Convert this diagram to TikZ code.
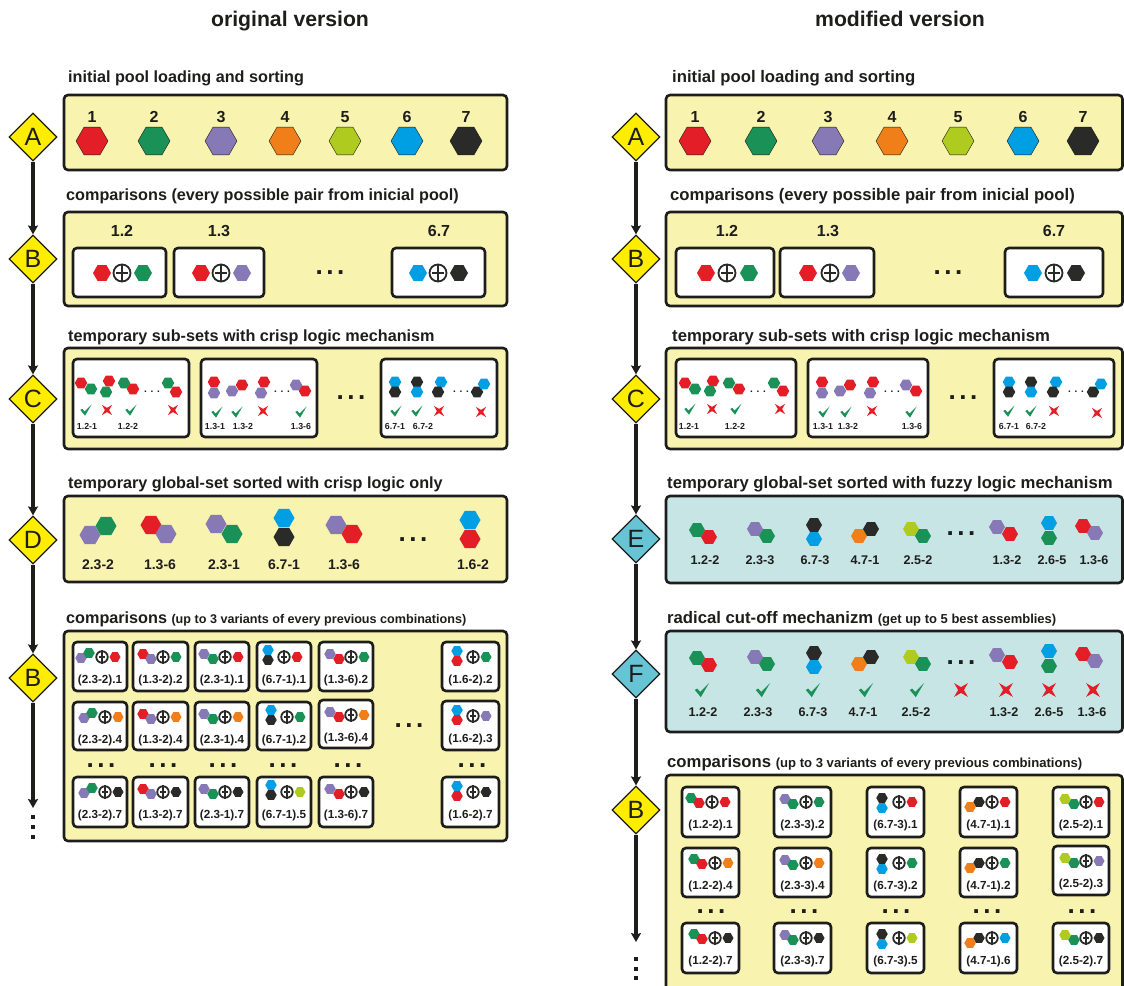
\documentclass[tikz,border=0pt]{standalone}
\usepackage{fontspec}
\setmainfont{Liberation Sans}
\usetikzlibrary{shapes.geometric,arrows.meta}

\definecolor{ink}{HTML}{1D1D1B}
\definecolor{hred}{HTML}{E31E26}
\definecolor{hgreen}{HTML}{1A9157}
\definecolor{hpurple}{HTML}{8779B5}
\definecolor{horange}{HTML}{F07F19}
\definecolor{hlime}{HTML}{AFCB1F}
\definecolor{hblue}{HTML}{009FE3}
\definecolor{hblack}{HTML}{2A2A29}
\definecolor{panelyellow}{HTML}{F9F3B0}
\definecolor{panelteal}{HTML}{C7E5E5}
\definecolor{stepyellow}{HTML}{FFED00}
\definecolor{stepteal}{HTML}{66C4D4}

\newcommand{\fsz}[1]{\fontsize{#1}{#1}\selectfont}
\newcommand{\gapdots}{.\kern.14em.\kern.14em.}
% ring with a plus inside
\newcommand{\plusring}[3]{%
  \node[ring=#3] (#1) at (#2) {};
  \draw[ringline] (#1.north) -- (#1.south) (#1.west) -- (#1.east);
}

\tikzset{
  title/.style={anchor=base,inner sep=0pt,text=ink,font=\bfseries\fsz{21.2}},
  heading/.style={anchor=base west,inner sep=0pt,text=ink,font=\bfseries\fsz{16.2}},
  rheading/.style={heading,font=\bfseries\fsz{16.7}},
  panel/.style={draw=ink,fill=panelyellow,line width=2.6pt,rounded corners=4pt},
  tealpanel/.style={panel,fill=panelteal},
  cell/.style={draw=ink,fill=white,line width=2.6pt,rounded corners=4pt},
  stepnode/.style={diamond,aspect=1,draw=ink,line width=1.2pt,fill=stepyellow,
    minimum size=48pt,inner sep=0pt,text=ink,font=\fsz{25}},
  stepf/.style={stepnode,fill=stepteal},
  flow/.style={draw=ink,line width=3.4pt,-{Stealth[length=9pt,width=10pt,inset=1.5pt]}},
  hex/.style={regular polygon,regular polygon sides=6,inner sep=0pt,minimum size=#1},
  bighex/.style={hex=32pt,draw=ink,line width=.4pt},
  ring/.style={circle,draw=hblack,fill=white,inner sep=0pt,minimum size=#1,line width=1.8pt},
  ringline/.style={draw=hblack,line width=1.5pt,shorten >=3.4pt,shorten <=3.4pt},
  numlab/.style={anchor=base,inner sep=0pt,text=ink,font=\bfseries\fsz{#1}},
  okmark/.pic={\fill[hgreen] (-6,0) -- (-4,-1.2) -- (-1.5,1.6) -- (6,-6) -- (-1,6) -- cycle;},
  nomark/.pic={\fill[hred] (-6,-6) -- (0,-2.5) -- (6,-6) -- (2.5,0) -- (6,6) -- (0,2.5) -- (-6,6) -- (-2.5,0) -- cycle;},
}

\begin{document}
\begin{tikzpicture}[x=1pt,y=-1pt]
  \clip (0,0) rectangle (1124,985);

  \node[title] (told) at (290,26) {original version};
  \node[title] (tnew) at (900,26) {modified version};

  % panels
  \foreach \xa/\ya/\xb/\yb in {64/95/507/170,64/212/507/306,64/348/507/449,64/496/507/582,64/631/507/841,
    666/95/1122.5/170,666/212/1122.5/306,666/348/1122.5/449,666/775/1122.5/1000}
    \draw[panel] (\xa,\ya) rectangle (\xb,\yb);
  \foreach \ya/\yb in {496/583,631/732}
    \draw[tealpanel] (666,\ya) rectangle (1122.5,\yb);

  % headings
  \foreach \x/\y/\n/\txt in {68/82/ha/initial pool loading and sorting,
    66/200/hb/comparisons (every possible pair from inicial pool),
    68/341/hc/temporary sub-sets with crisp logic mechanism,
    68/488/hd/temporary global-set sorted with crisp logic only}
    \node[heading] (\n) at (\x,\y) {\txt};
  \foreach \x/\y/\n/\txt in {672/82/hg/initial pool loading and sorting,
    670/200/hh/comparisons (every possible pair from inicial pool),
    672/341/hi/temporary sub-sets with crisp logic mechanism,
    667/488/hj/temporary global-set sorted with fuzzy logic mechanism}
    \node[rheading] (\n) at (\x,\y) {\txt};
  \node[heading] (he) at (66,623) {comparisons {\fsz{12.6}(up to 3 variants of every previous combinations)}};
  \node[rheading] (hk) at (667,623) {radical cut-off mechanizm {\fsz{13}(get up to 5 best assemblies)}};
  \node[rheading] (hl) at (667,767) {comparisons {\fsz{13.1}(up to 3 variants of every previous combinations)}};

  % steps, left
  \node[stepnode] (la) at (33,137) {A};
  \node[stepnode] (lb) at (33,259) {B};
  \node[stepnode] (lc) at (33,399) {C};
  \node[stepnode] (ld) at (33,540) {D};
  \node[stepnode] (le) at (33,678) {B};
  \coordinate (lend) at (33,808);
  \draw[flow] (la) -- (lb);
  \draw[flow] (lb) -- (lc);
  \draw[flow] (lc) -- (ld);
  \draw[flow] (ld) -- (le);
  \draw[flow] (le) -- (lend);

  % steps, right
  \node[stepnode] (ra) at (636,137) {A};
  \node[stepnode] (rb) at (636,259) {B};
  \node[stepnode] (rc) at (636,399) {C};
  \node[stepf] (re) at (636,539) {E};
  \node[stepf] (rf) at (636,674) {F};
  \node[stepnode] (rg) at (636,810) {B};
  \coordinate (rend) at (636,942);
  \draw[flow] (ra) -- (rb);
  \draw[flow] (rb) -- (rc);
  \draw[flow] (rc) -- (re);
  \draw[flow] (re) -- (rf);
  \draw[flow] (rf) -- (rg);
  \draw[flow] (rg) -- (rend);

  % continuation dots
  \foreach \x/\y in {33/817,33/827,33/837,636/959,636/969,636/978}
    \node[fill=ink,minimum size=4.5pt,inner sep=0pt] (cont\x\y) at (\x,\y) {};

  % pool
  \foreach \x/\col/\i in {92/hred/1,154/hgreen/2,221/hpurple/3,285/horange/4,345/hlime/5,407/hblue/6,466/hblack/7,
    695/hred/1,761/hgreen/2,828/hpurple/3,892/horange/4,958/hlime/5,1023/hblue/6,1083/hblack/7} {
    \node[bighex,fill=\col] (pool\x) at (\x,141) {};
    \node[numlab=16] (lab\x) at (\x,122) {\i};
  }

  % pairs from the pool
  \foreach \xa/\xb/\lx/\lab/\pa/\ca/\pc/\pb/\cb in {
    73/166/122/1.2/102/hred/122/143/hgreen,
    174/264/219/1.3/201/hred/221/242/hpurple,
    392/485/439/6.7/418/hblue/438/459/hblack,
    676/774/727/1.2/706/hred/727/749/hgreen,
    780/874/828/1.3/808/hred/830/851/hpurple,
    1005/1103/1054/6.7/1033/hblue/1054/1076/hblack} {
    \draw[cell] (\xa,248) rectangle (\xb,297);
    \node[numlab=16] (nm\xa) at (\lx,236) {\lab};
    \node[hex=18pt,fill=\ca] (pa\xa) at (\pa,273) {};
    \node[hex=18pt,fill=\cb] (pb\xa) at (\pb,273) {};
    \plusring{pr\xa}{\pc,273}{17pt}
  }
  \foreach \x in {330,948}
    \node[numlab=26] (gapb\x) at (\x,274) {\gapdots};

  % sub-set boxes
  \foreach \xa/\xb in {73/189,201/317,381/497,676/796,808/928,994/1114}
    \draw[cell] (\xa,359) rectangle (\xb,437);
  \foreach \xa/\ya/\ca/\xb/\yb/\cb in {
    81/383/hred/91/389/hgreen,109/381/hred/106/392/hgreen,124/383/hgreen/133/389/hred,168/383/hgreen/176/392/hred,
    214/382/hred/214/393/hpurple,232/391/hpurple/242/385/hred,264/382/hred/261/393/hpurple,296/385/hpurple/305/391/hred,
    395/382/hblue/395/392/hblack,417/382/hblack/417/392/hblue,441/382/hblue/438/392/hblack,477/392/hblack/484/384/hblue,
    685/383/hred/695/389/hgreen,713/381/hred/710/391/hgreen,729/383/hgreen/739/389/hred,774/383/hgreen/783/391/hred,
    822/382/hred/822/393/hpurple,840/391/hpurple/850/385/hred,873/382/hred/870/393/hpurple,906/385/hpurple/916/391/hred,
    1009/382/hblue/1009/392/hblack,1031/382/hblack/1031/392/hblue,1056/382/hblue/1053/392/hblack,1093/392/hblack/1101/384/hblue} {
    \node[hex=12.5pt,fill=\ca] (sa\xa) at (\xa,\ya) {};
    \node[hex=12.5pt,fill=\cb] (sb\xa) at (\xb,\yb) {};
  }
  \foreach \x in {152,282,461,758,892,1076}
    \node[numlab=10] (gaps\x) at (\x,392) {. . .};
  \foreach \x in {351,963}
    \node[numlab=26] (gapc\x) at (\x,399) {\gapdots};
  \foreach \x/\y in {86/410,131/410,217/412,237/412,301/412,396/411,417/411,690/409,736/409,824/412,846/412,911/412,1009/411,1031/411}
    \pic[scale=.95] at (\x,\y) {okmark};
  \foreach \x/\y in {107/410,173/410,263/411,439/411,481/412,712/409,780/409,872/411,1054/411,1097/413}
    \pic[scale=.85] at (\x,\y) {nomark};
  \foreach \x/\lab in {87/1.2-1,128/1.2-2,215/1.3-1,243/1.3-2,301/1.3-6,395/6.7-1,423/6.7-2,
    689/1.2-1,735/1.2-2,823/1.3-1,848/1.3-2,912/1.3-6,1009/6.7-1,1036/6.7-2}
    \node[numlab=8.8] (sl\x) at (\x,429) {\lab};

  % global set, crisp
  \foreach \xa/\ya/\ca/\xb/\yb/\cb/\lx/\lab in {
    90/535/hpurple/106/526/hgreen/98/2.3-2,
    151/525/hred/166/534/hpurple/160/1.3-6,
    216/524/hpurple/232/534/hgreen/224/2.3-1,
    284/537/hblack/284/518/hblue/284/6.7-1,
    336/525/hpurple/352/534/hred/344/1.3-6,
    470/520/hblue/470/539/hred/473/1.6-2} {
    \node[hex=21pt,fill=\ca] (ga\xa) at (\xa,\ya) {};
    \node[hex=21pt,fill=\cb] (gb\xa) at (\xb,\yb) {};
    \node[numlab=14] (gl\xa) at (\lx,569) {\lab};
  }
  \node[numlab=26] (gapd) at (413,541) {\gapdots};

  % global set, fuzzy, and the cut-off below it
  \foreach \xa/\ya/\ca/\xb/\yb/\cb/\lx/\lab/\mx/\kx in {
    697/530/hgreen/709/537/hred/705/1.2-2/703/702,
    755/529/hpurple/767/536/hgreen/760/2.3-3/758/763,
    814/525/hblack/814/539/hblue/815/6.7-3/813/813,
    859/536/horange/871/529/hblack/865/4.7-1/863/866,
    911/529/hlime/923/536/hgreen/918/2.5-2/916/917} {
    \node[hex=16pt,fill=\ca] (ea\xa) at (\xa,\ya) {};
    \node[hex=16pt,fill=\cb] (eb\xa) at (\xb,\yb) {};
    \node[numlab=12.6] (el\xa) at (\lx,564) {\lab};
    \node[hex=16pt,fill=\ca] (fa\xa) at (\xa,\ya+128) {};
    \node[hex=16pt,fill=\cb] (fb\xa) at (\xb,\yb+128) {};
    \node[numlab=12.6] (fl\xa) at (\mx,716) {\lab};
    \pic[scale=1.2] at (\kx,690) {okmark};
  }
  \foreach \xa/\ya/\ca/\xb/\yb/\cb/\lx/\lab/\mx/\kx in {
    997/527/hpurple/1010/534/hred/1007/1.3-2/1004/1006,
    1049/538/hgreen/1049/523/hblue/1052/2.6-5/1049/1049,
    1095/533/hpurple/1083/526/hred/1094/1.3-6/1092/1093} {
    \node[hex=16pt,fill=\ca] (ea\xa) at (\xa,\ya) {};
    \node[hex=16pt,fill=\cb] (eb\xa) at (\xb,\yb) {};
    \node[numlab=12.6] (el\xa) at (\lx,564) {\lab};
    \node[hex=16pt,fill=\ca] (fa\xa) at (\xa,\ya+128) {};
    \node[hex=16pt,fill=\cb] (fb\xa) at (\xb,\yb+128) {};
    \node[numlab=12.6] (fl\xa) at (\mx,716) {\lab};
    \pic[scale=1.15] at (\kx,690) {nomark};
  }
  \pic[scale=1.15] at (961,690) {nomark};
  \node[numlab=26] (gape) at (961,535) {\gapdots};
  \node[numlab=26] (gapf) at (961,664) {\gapdots};

  % comparison grids
  \foreach \cx/\cw/\ca/\ax/\ay/\cb/\bx/\by/\ox/\tl/\ra/\na/\sa/\rb/\nb/\sb/\rc/\nc/\sc/\ya/\yb/\yc/\ha/\hb/\hc in {
    73/54/hpurple/11/16/hgreen/19/11/32/2.3-2/hred/1/-3/horange/4/0/hblack/7/0/642/702/777/49/48/50,
    133/55/hred/10/12/hpurple/18/17/30/1.3-2/hgreen/2/0/horange/4/0/hblack/7/0/642/702/777/49/48/50,
    195/54/hpurple/9/12/hgreen/18/17/30/2.3-1/hred/1/0/horange/4/0/hblack/7/0/642/702/777/49/48/50,
    257/54/hblue/14/8/hblack/14/18/30/6.7-1/hred/1/-3/hgreen/2/0/hlime/5/0/642/702/777/49/48/50,
    319/54/hpurple/11/12/hred/20/17/32/1.3-6/hgreen/2/0/horange/4/0/hblack/7/0/642/700/777/49/48/50,
    442/57/hblue/15/9/hred/15/19/31/1.6-2/hgreen/2/0/hpurple/3/0/hblack/7/0/642/701/777/49/49/50,
    682/57/hgreen/12/11/hred/20/16/33/1.2-2/hred/1/-3/horange/4/0/hblack/7/0/787/848/923/50/49/50,
    774/57/hpurple/11/12/hgreen/19/17/32/2.3-3/hgreen/2/0/horange/4/0/hblack/7/0/787/848/923/50/49/50,
    867/57/hblack/15/11/hblue/15/21/32/6.7-3/hred/1/0/hgreen/2/0/hlime/5/0/787/848/923/50/49/50,
    960/57/horange/10/20/hblack/19/15/32/4.7-1/hred/1/0/hgreen/2/0/hblue/6/0/787/848/923/50/49/50,
    1053/56/hlime/12/12/hgreen/21/17/33/2.5-2/hred/1/0/hpurple/3/0/hblack/7/0/787/846/923/50/49/50} {
    \foreach \ry/\rh/\rr/\rn/\rs in {\ya/\ha/\ra/\na/\sa,\yb/\hb/\rb/\nb/\sb,\yc/\hc/\rc/\nc/\sc} {
      \draw[cell] (\cx,\ry) rectangle (\cx+\cw,\ry+\rh);
      \node[hex=11.5pt,fill=\ca] (ca\cx-\ry) at (\cx+\ax+\rs,\ry+\ay) {};
      \node[hex=11.5pt,fill=\cb] (cb\cx-\ry) at (\cx+\bx+\rs,\ry+\by) {};
      \plusring{cr\cx-\ry}{\cx+\ox+\rs,\ry+15}{11.5pt}
      \node[hex=11pt,fill=\rr] (cc\cx-\ry) at (\cx+\ox+13+\rs,\ry+15) {};
      \node[numlab=11.7] (cl\cx-\ry) at (\cx+\cw/2,\ry+41) {(\tl).\rn};
    }
  }
  \foreach \x/\y in {101/767,163/767,223/767,283/767,348/767,472/767,711/913,804/913,896/913,987/913,1082/913,409/727}
    \node[numlab=26] (gapg\x) at (\x,\y) {\gapdots};
\end{tikzpicture}
\end{document}
